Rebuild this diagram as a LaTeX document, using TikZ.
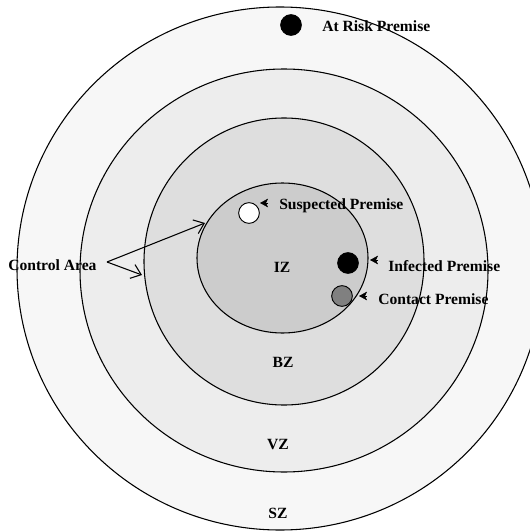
\documentclass[tikz,border=0pt]{standalone}
\usepackage{fontspec}
\setmainfont{Liberation Serif}
\usepackage{xcolor}
\usetikzlibrary{arrows.meta,calc}

\tikzset{
  zone/.style={draw=black,line width=0.8pt},
  zonelabel/.style={font=\bfseries\fontsize{11.7}{14}\selectfont,inner sep=0pt,anchor=base},
  tag/.style={font=\bfseries\fontsize{11.7}{14}\selectfont,inner sep=0pt,anchor=base west},
  premise/.style={circle,draw=black,line width=0.7pt,minimum size=15.5pt,inner sep=0pt},
  marker/.style={-{Stealth[length=6pt,width=6.5pt,inset=1.5pt]}},
  pointer/.style={-{Straight Barb[length=7pt,width=11pt]},line width=0.8pt},
}

\begin{document}
\begin{tikzpicture}[x=0.75pt,y=-0.75pt]
\clip (0,0) rectangle (530,531);
\fill[white] (0,0) rectangle (530,531);
% zones
\filldraw[zone,fill=black!3] (280,268.5) ellipse [x radius=263,y radius=261.5];
\filldraw[zone,fill=black!7] (284,270.5) ellipse [x radius=204,y radius=201.5];
\filldraw[zone,fill=black!13] (284,261.5) ellipse [x radius=140,y radius=143.5];
\filldraw[zone,fill=black!20] (282.5,258) ellipse [x radius=85.5,y radius=75];
\node[zonelabel] (iz) at (282,272) {IZ};
\node[zonelabel] (bz) at (283,367) {BZ};
\node[zonelabel] (vz) at (278,449) {VZ};
\node[zonelabel] (sz) at (278,518) {SZ};
% premises
\node[premise,fill=black] (risk) at (291,25) {};
\node[premise,fill=white] (suspected) at (249,213) {};
\node[premise,fill=black] (infected) at (348,263) {};
\node[premise,fill=black!50] (contact) at (342,296) {};
\node[tag] (risklabel) at (322,32) {At Risk Premise};
\node[tag] (suspectedlabel) at (279,209) {Suspected Premise};
\node[tag] (infectedlabel) at (388,271) {Infected Premise};
\node[tag] (contactlabel) at (378,304) {Contact Premise};
\coordinate (suspectedtip) at (260,203);
\coordinate (infectedtip) at (370,260);
\coordinate (contacttip) at (359,296);
\draw[marker] ($(suspectedtip)+(8,0)$) -- (suspectedtip);
\draw[marker] ($(infectedtip)+(8,0)$) -- (infectedtip);
\draw[marker] ($(contacttip)+(8,0)$) -- (contacttip);
% control area
\node[tag] (control) at (8,270) {Control Area};
\coordinate (ctrl) at (107,262);
\coordinate (izedge) at (205,223);
\coordinate (bzedge) at (142,275);
\draw[pointer] (ctrl) -- (izedge);
\draw[pointer] (ctrl) -- (bzedge);
\end{tikzpicture}
\end{document}
